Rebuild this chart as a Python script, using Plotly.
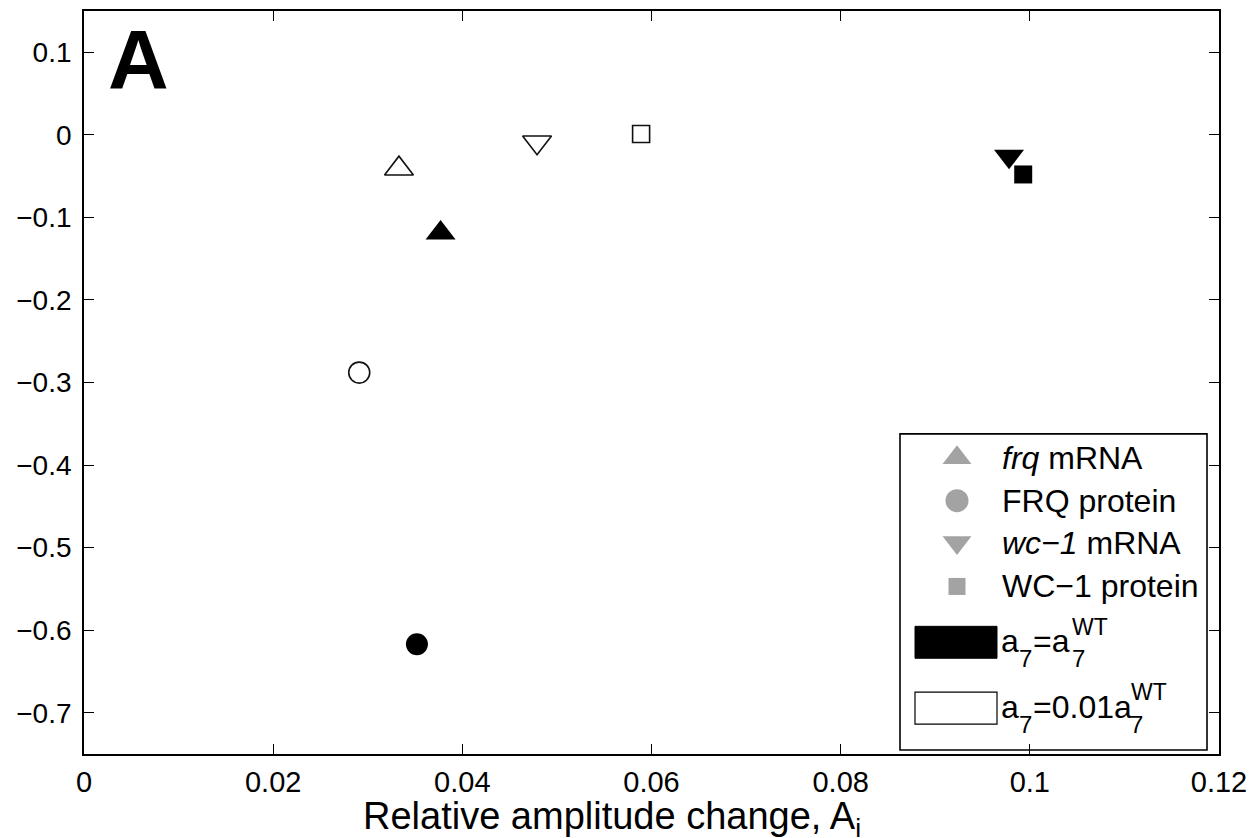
import plotly.graph_objects as go

# ---- data ----
series = ["frq mRNA", "FRQ protein", "wc-1 mRNA", "WC-1 protein"]
symbols = ["triangle-up", "circle", "triangle-down", "square"]
amp_wt = [0.0377, 0.0352, 0.0978, 0.0993]      # a7 = a7^WT (filled)
phase_wt = [-0.119, -0.617, -0.026, -0.048]
amp_low = [0.0333, 0.0291, 0.0479, 0.0589]     # a7 = 0.01 a7^WT (open)
phase_low = [-0.041, -0.288, -0.009, 0.001]
xticks = [0, 0.02, 0.04, 0.06, 0.08, 0.1, 0.12]
yticks = [0.1, 0, -0.1, -0.2, -0.3, -0.4, -0.5, -0.6, -0.7]
legend_labels = ["<i>frq</i> mRNA", "FRQ protein", "<i>wc\u22121</i> mRNA", "WC\u22121 protein"]

FONT = "Liberation Sans, Arial, Helvetica, sans-serif"
sizes = {"triangle-up": 26, "circle": 22, "triangle-down": 26, "square": 18}

# page geometry (browser body has an 8px margin)
OFF = 8
W, H = 1255 - OFF, 838 - OFF
PX0, PX1, PY0, PY1 = 84, 1219, 9, 754   # plot area in page pixels


def paper_x(px):
    return (px - PX0) / (PX1 - PX0)


def paper_y(py):
    return (PY1 - py) / (PY1 - PY0)


fig = go.Figure()

for name, sym, xw, yw, xl, yl in zip(series, symbols, amp_wt, phase_wt, amp_low, phase_low):
    fig.add_trace(go.Scatter(
        x=[xw], y=[yw], mode="markers", name=name + " (WT)", showlegend=False,
        marker=dict(symbol=sym, size=sizes[sym], color="black", line=dict(width=0)),
        cliponaxis=False))
    fig.add_trace(go.Scatter(
        x=[xl], y=[yl], mode="markers", name=name + " (0.01)", showlegend=False,
        marker=dict(symbol=sym + "-open", size=sizes[sym] - 1, color="#111111",
                    line=dict(width=1.6, color="#111111")),
        cliponaxis=False))

# ---- custom legend on a pixel-space overlay axis ----
leg_x = 957
leg_rows = [457, 500, 542, 586]
fig.add_trace(go.Scatter(
    x=[leg_x] * 4, y=leg_rows, xaxis="x2", yaxis="y2", mode="markers",
    showlegend=False, hoverinfo="skip",
    marker=dict(symbol=symbols, size=[25, 23, 25, 17], color="#7c7c7c", line=dict(width=0))))

shapes = [
    dict(type="rect", xref="x2", yref="y2", x0=900, x1=1207, y0=433, y1=750,
         line=dict(color="black", width=1.6), fillcolor="white", layer="below"),
    dict(type="rect", xref="x2", yref="y2", x0=915, x1=997, y0=626, y1=658,
         line=dict(color="black", width=1), fillcolor="black"),
    dict(type="rect", xref="x2", yref="y2", x0=915, x1=997, y0=692, y1=724,
         line=dict(color="black", width=1.2), fillcolor="white"),
]


def txt(x, y, text, size, xanchor="left", yanchor="middle"):
    return dict(xref="x2", yref="y2", x=x, y=y, text=text, showarrow=False,
                xanchor=xanchor, yanchor=yanchor, borderpad=0,
                font=dict(family=FONT, size=size, color="black"))


annotations = []
for t, yy in zip(legend_labels, leg_rows):
    annotations.append(txt(1001, yy, t, 32))

# a7 = a7^WT
annotations += [
    txt(1000, 641, "a", 32),
    txt(1018, 658, "7", 24),
    txt(1032, 641, "=a", 32),
    txt(1071, 658, "7", 24),
    txt(1071, 627, "WT", 23),
    # a7 = 0.01 a7^WT
    txt(1000, 707, "a", 32),
    txt(1018, 724, "7", 24),
    txt(1032, 707, "=0.01a", 32),
    txt(1129, 724, "7", 24),
    txt(1130, 692, "WT", 23),
    # panel letter
    txt(138, 58, "<b>A</b>", 84, xanchor="center"),
]
# x-axis title (below the plot, in paper coordinates)
annotations.append(dict(
    xref="paper", yref="paper", x=paper_x(362), y=paper_y(794),
    text="Relative amplitude change, A<sub>i</sub>", showarrow=False,
    xanchor="left", yanchor="top", borderpad=0,
    font=dict(family=FONT, size=38, color="black")))

axis_common = dict(showline=True, linecolor="black", linewidth=1.8, mirror="ticks",
                   ticks="inside", ticklen=10, tickwidth=1, tickcolor="black",
                   showgrid=False, zeroline=False)

fig.update_layout(
    width=W, height=H,
    margin=dict(l=PX0 - OFF, r=1255 - PX1, t=PY0 - OFF, b=838 - PY1, pad=0),
    paper_bgcolor="white", plot_bgcolor="white",
    xaxis=dict(range=[0, 0.12], tickvals=xticks, ticklabelstandoff=1,
               tickfont=dict(family=FONT, size=29, color="black"), **axis_common),
    yaxis=dict(range=[-0.75, 0.15], tickvals=yticks, ticklabelstandoff=5,
               tickfont=dict(family=FONT, size=28, color="black"), **axis_common),
    xaxis2=dict(range=[PX0, PX1], overlaying="x", visible=False, anchor="y2"),
    yaxis2=dict(range=[PY1, PY0], overlaying="y", visible=False, anchor="x2"),
    shapes=shapes,
    annotations=annotations,
    showlegend=False,
)

fig.write_html("out.html")
